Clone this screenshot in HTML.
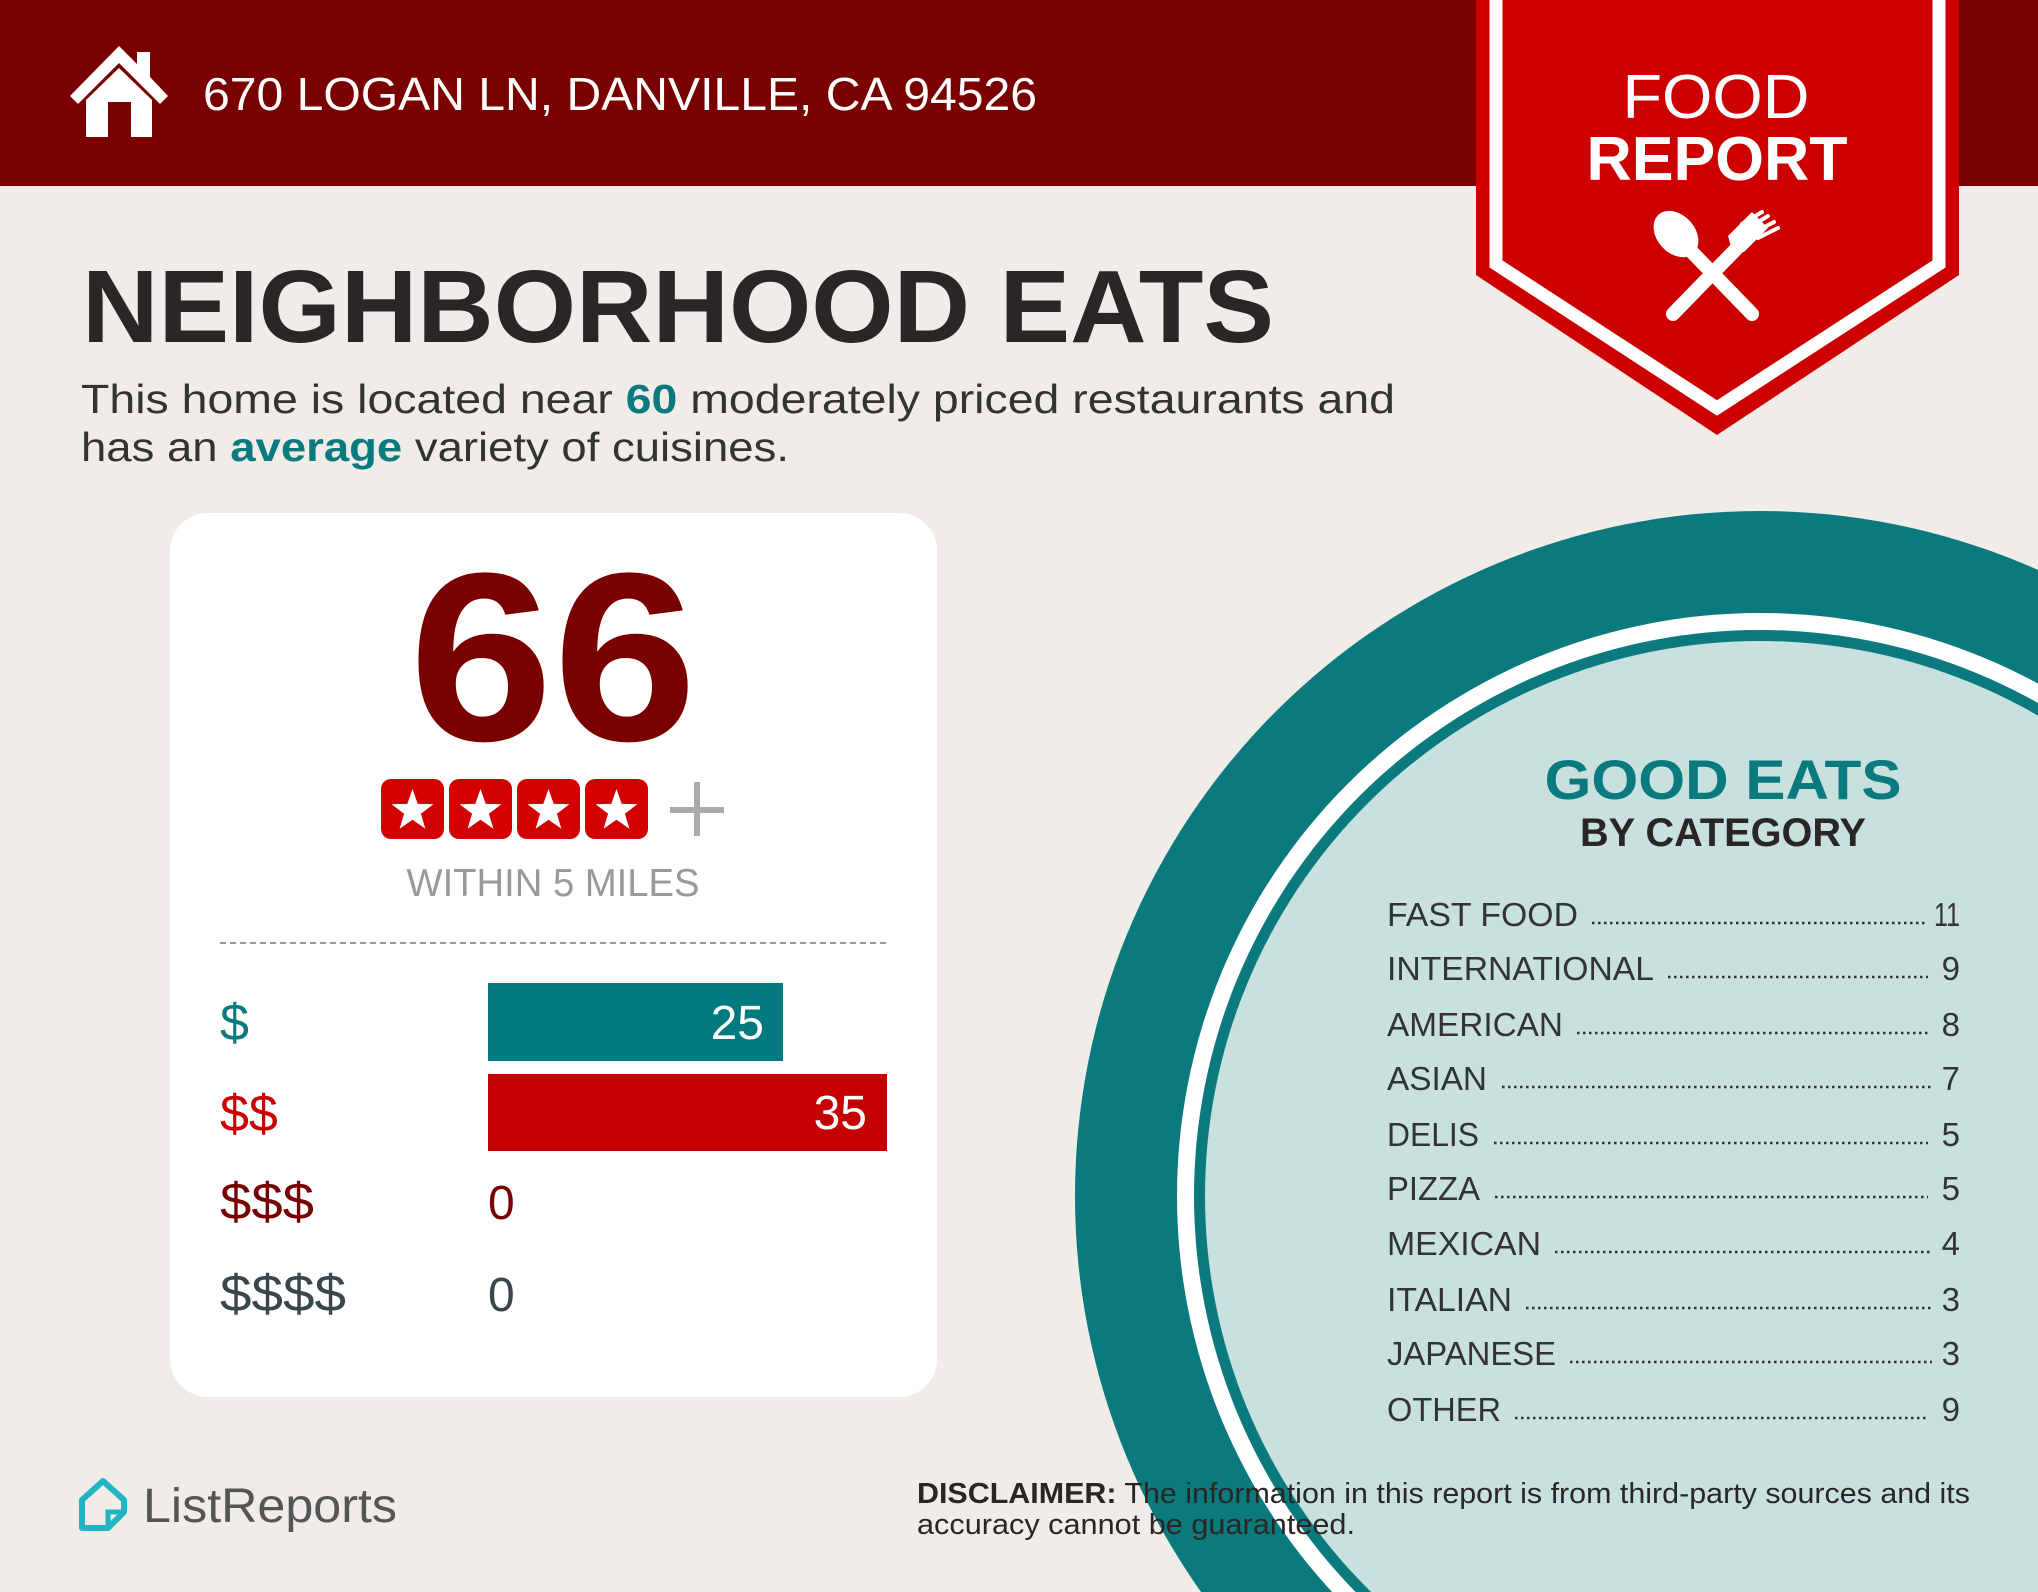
<!DOCTYPE html>
<html><head><meta charset="utf-8"><style>
html,body{margin:0;padding:0;background:#f0ece8;width:2038px;height:1592px;overflow:hidden;}
svg{display:block;}
text{font-family:"Liberation Sans",sans-serif;}
</style></head><body>
<svg width="2038" height="1592" viewBox="0 0 2038 1592" xmlns="http://www.w3.org/2000/svg">
<rect width="2038" height="1592" fill="#f0ece8"/>
<rect width="2038" height="186" fill="#7a0000"/>
<path d="M70 96 L119 46 L137 64 L137 52 L150 52 L150 77 L168 96 L160 104 L119 63 L78 104 Z" fill="#fff"/>
<path d="M86 100 L119 68 L152 100 L152 137 L131 137 L131 102 L108 102 L108 137 L86 137 Z" fill="#fff"/>
<text x="203" y="110" font-size="46" fill="#fff" textLength="834" lengthAdjust="spacingAndGlyphs">670 LOGAN LN, DANVILLE, CA 94526</text>

<circle cx="1760" cy="1196" r="685" fill="#0a7a7e"/>
<circle cx="1760" cy="1196" r="583" fill="#fff"/>
<circle cx="1760" cy="1196" r="566" fill="#0a7a7e"/>
<circle cx="1760" cy="1196" r="555" fill="#c8e1df"/>

<polygon points="1476,0 1959,0 1959,275 1717,435 1476,275" fill="#cc0000"/>
<polyline points="1496,0 1496,264 1717,408 1939,264 1939,0" fill="none" stroke="#fff" stroke-width="13"/>
<text x="1716" y="118" font-size="62" fill="#fff" text-anchor="middle" textLength="187" lengthAdjust="spacingAndGlyphs">FOOD</text>
<text x="1717" y="180" font-size="62" font-weight="bold" fill="#fff" text-anchor="middle" textLength="261" lengthAdjust="spacingAndGlyphs">REPORT</text>
<line x1="1690" y1="250" x2="1752" y2="314" stroke="#fff" stroke-width="14" stroke-linecap="round"/>
<ellipse cx="1676" cy="234" rx="19" ry="26" transform="rotate(-42 1676 234)" fill="#fff"/>
<line x1="1673" y1="314" x2="1740" y2="245" stroke="#fff" stroke-width="14" stroke-linecap="round"/>
<path d="M1732 250 L1728 236 L1752 212 L1768 228 L1744 252 Z" fill="#fff"/>
<g stroke="#fff" stroke-width="4" stroke-linecap="round">
<line x1="1742" y1="224" x2="1762" y2="212"/><line x1="1748" y1="228" x2="1768" y2="216"/><line x1="1753" y1="233" x2="1774" y2="222"/><line x1="1758" y1="238" x2="1778" y2="228"/>
</g>

<text x="82" y="342" font-size="103" font-weight="bold" fill="#2a2626" textLength="1192" lengthAdjust="spacingAndGlyphs">NEIGHBORHOOD EATS</text>
<text x="81" y="413" font-size="41" fill="#333" textLength="1314" lengthAdjust="spacingAndGlyphs">This home is located near <tspan font-weight="bold" fill="#0a7a7e">60</tspan> moderately priced restaurants and</text>
<text x="81" y="461" font-size="41" fill="#333" textLength="708" lengthAdjust="spacingAndGlyphs">has an <tspan font-weight="bold" fill="#0a7a7e">average</tspan> variety of cuisines.</text>

<rect x="170" y="513" width="767" height="884" rx="38" fill="#fff"/>
<text x="553" y="740" font-size="240" font-weight="bold" fill="#7a0000" text-anchor="middle" textLength="288" lengthAdjust="spacingAndGlyphs">66</text>
<g fill="#d40000">
<rect x="381" y="779" width="63" height="60" rx="10"/>
<rect x="449" y="779" width="63" height="60" rx="10"/>
<rect x="517" y="779" width="63" height="60" rx="10"/>
<rect x="585" y="779" width="63" height="60" rx="10"/>
</g>
<g fill="#fff">
<polygon transform="translate(412.5 811)" points="0,-22 5.2,-7.1 20.9,-6.8 8.4,2.7 12.9,17.8 0,8.8 -12.9,17.8 -8.4,2.7 -20.9,-6.8 -5.2,-7.1"/>
<polygon transform="translate(480.5 811)" points="0,-22 5.2,-7.1 20.9,-6.8 8.4,2.7 12.9,17.8 0,8.8 -12.9,17.8 -8.4,2.7 -20.9,-6.8 -5.2,-7.1"/>
<polygon transform="translate(548.5 811)" points="0,-22 5.2,-7.1 20.9,-6.8 8.4,2.7 12.9,17.8 0,8.8 -12.9,17.8 -8.4,2.7 -20.9,-6.8 -5.2,-7.1"/>
<polygon transform="translate(616.5 811)" points="0,-22 5.2,-7.1 20.9,-6.8 8.4,2.7 12.9,17.8 0,8.8 -12.9,17.8 -8.4,2.7 -20.9,-6.8 -5.2,-7.1"/>
</g>
<rect x="670" y="807" width="54" height="6" fill="#aaa"/>
<rect x="694" y="782" width="6" height="54" fill="#aaa"/>
<text x="553" y="896" font-size="39" fill="#999" text-anchor="middle" textLength="293" lengthAdjust="spacingAndGlyphs">WITHIN 5 MILES</text>
<line x1="220" y1="943" x2="887" y2="943" stroke="#999" stroke-width="2" stroke-dasharray="6 4"/>
<rect x="488" y="983" width="295" height="78" fill="#007a7e"/>
<rect x="488" y="1074" width="399" height="77" fill="#c40000"/>
<text x="764" y="1039" font-size="48" fill="#fff" text-anchor="end">25</text>
<text x="867" y="1129" font-size="48" fill="#fff" text-anchor="end">35</text>
<text x="220" y="1040" font-size="52" fill="#0a7a7e">$</text>
<text x="220" y="1131" font-size="52" fill="#cc0000">$$</text>
<text x="220" y="1219" font-size="52" fill="#7a0000" textLength="94" lengthAdjust="spacingAndGlyphs">$$$</text>
<text x="220" y="1311" font-size="52" fill="#37474a" textLength="126" lengthAdjust="spacingAndGlyphs">$$$$</text>
<text x="488" y="1219" font-size="48" fill="#7a0000">0</text>
<text x="488" y="1311" font-size="48" fill="#37474a">0</text>

<text x="1723" y="799" font-size="56" font-weight="bold" fill="#0a7a7e" text-anchor="middle" textLength="357" lengthAdjust="spacingAndGlyphs">GOOD EATS</text>
<text x="1723" y="846" font-size="40" font-weight="bold" fill="#2a2626" text-anchor="middle" textLength="286" lengthAdjust="spacingAndGlyphs">BY CATEGORY</text>
<g font-size="33" fill="#333">
<text x="1387" y="926" textLength="191" lengthAdjust="spacingAndGlyphs">FAST FOOD</text>
<text x="1387" y="980" textLength="267" lengthAdjust="spacingAndGlyphs">INTERNATIONAL</text>
<text x="1387" y="1036" textLength="176" lengthAdjust="spacingAndGlyphs">AMERICAN</text>
<text x="1387" y="1090" textLength="100" lengthAdjust="spacingAndGlyphs">ASIAN</text>
<text x="1387" y="1146" textLength="92" lengthAdjust="spacingAndGlyphs">DELIS</text>
<text x="1387" y="1200" textLength="93" lengthAdjust="spacingAndGlyphs">PIZZA</text>
<text x="1387" y="1255" textLength="154" lengthAdjust="spacingAndGlyphs">MEXICAN</text>
<text x="1387" y="1311" textLength="125" lengthAdjust="spacingAndGlyphs">ITALIAN</text>
<text x="1387" y="1365" textLength="169" lengthAdjust="spacingAndGlyphs">JAPANESE</text>
<text x="1387" y="1421" textLength="114" lengthAdjust="spacingAndGlyphs">OTHER</text>
</g>
<g font-size="33" fill="#333" text-anchor="end">
<text x="1960" y="926" textLength="26" lengthAdjust="spacingAndGlyphs">11</text><text x="1960" y="980">9</text><text x="1960" y="1036">8</text><text x="1960" y="1090">7</text><text x="1960" y="1146">5</text><text x="1960" y="1200">5</text><text x="1960" y="1255">4</text><text x="1960" y="1311">3</text><text x="1960" y="1365">3</text><text x="1960" y="1421">9</text>
</g>
<g stroke="#333" stroke-width="2.5" stroke-dasharray="2.5 3.5">
<line x1="1592" y1="923" x2="1926" y2="923"/>
<line x1="1668" y1="977" x2="1928" y2="977"/>
<line x1="1577" y1="1033" x2="1928" y2="1033"/>
<line x1="1502" y1="1087" x2="1932" y2="1087"/>
<line x1="1494" y1="1143" x2="1928" y2="1143"/>
<line x1="1495" y1="1197" x2="1928" y2="1197"/>
<line x1="1555" y1="1252" x2="1932" y2="1252"/>
<line x1="1526" y1="1308" x2="1932" y2="1308"/>
<line x1="1570" y1="1362" x2="1932" y2="1362"/>
<line x1="1515" y1="1418" x2="1928" y2="1418"/>
</g>

<path d="M82 1500 L103 1481 L124 1500 L124 1512 L108 1528 L82 1528 Z" fill="none" stroke="#1fb5c4" stroke-width="6" stroke-linejoin="round"/>
<path d="M108 1528 L108 1512 L124 1512" fill="none" stroke="#1fb5c4" stroke-width="5"/>
<text x="143" y="1522" font-size="48" fill="#555" textLength="254" lengthAdjust="spacingAndGlyphs">ListReports</text>
<text x="917" y="1503" font-size="29" fill="#2a2626" textLength="1053" lengthAdjust="spacingAndGlyphs"><tspan font-weight="bold">DISCLAIMER:</tspan> The information in this report is from third-party sources and its</text>
<text x="917" y="1534" font-size="29" fill="#2a2626" textLength="438" lengthAdjust="spacingAndGlyphs">accuracy cannot be guaranteed.</text>
</svg>
</body></html>
